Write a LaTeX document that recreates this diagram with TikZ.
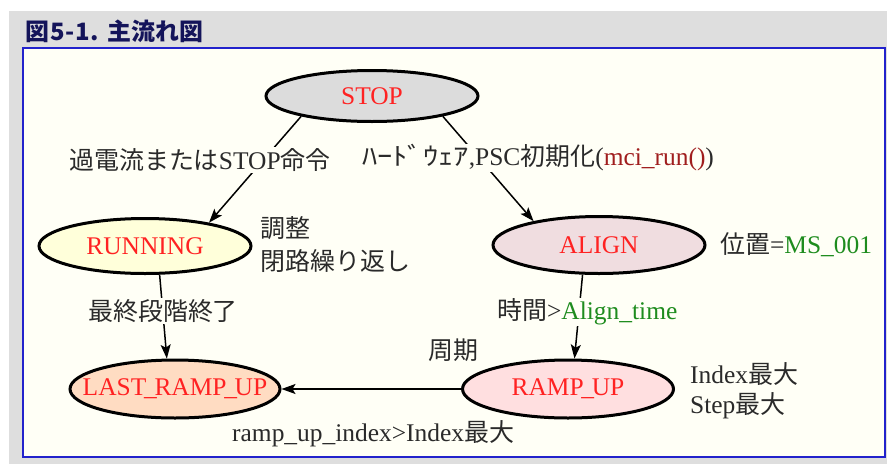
\documentclass[tikz,border=0pt]{standalone}
\usepackage{fontspec}
\setmainfont{Liberation Serif}[Scale=1.06]
\newfontfamily\jp{Noto Sans CJK JP}[Scale=1.04]
\newfontfamily\jphw{Noto Sans CJK JP}[Scale=1.04,FakeStretch=1.22]
\usetikzlibrary{shapes.geometric,arrows.meta}

\definecolor{pagegrey}{HTML}{DEDEDE}
\definecolor{panel}{HTML}{FFFFF6}
\definecolor{frameblue}{HTML}{2222CC}
\definecolor{titlenavy}{HTML}{14145A}
\definecolor{statered}{HTML}{FF2222}
\definecolor{callred}{HTML}{A01E1E}
\definecolor{valgreen}{HTML}{1E8C1E}
\definecolor{ink}{HTML}{2A2A2A}
\definecolor{fillstop}{HTML}{DCDCDC}
\definecolor{fillrun}{HTML}{FFFFDA}
\definecolor{fillalign}{HTML}{F0DDE0}
\definecolor{fillramp}{HTML}{FFDFE0}
\definecolor{filllast}{HTML}{FFDCC2}

% state names are set in a zero-width box so the ellipse keeps its given size
\newcommand{\statename}[1]{\makebox[0pt]{#1}}
% tighter underscore for the state names
\newcommand{\tus}{\kern-0.09em\_\kern-0.09em}

\tikzset{
  state/.style={ellipse, draw=black, line width=3pt, inner sep=0pt,
    text=statered, font=\fontsize{24}{28}\selectfont},
  flow/.style={line width=1.5pt,
    -{Stealth[length=14pt,width=10pt,inset=3pt]}},
  note/.style={inner sep=1pt, text=ink, anchor=west,
    font=\fontsize{24}{28}\selectfont},
  cut/.style={note, fill=panel},
}

\begin{document}
\begin{tikzpicture}[x=1pt,y=-1pt]
\useasboundingbox (0,0) rectangle (887,464);
\fill[white] (0,0) rectangle (887,464);
% page and panel
\fill[pagegrey] (9,11) rectangle (887,464);
\filldraw[fill=panel, draw=frameblue, line width=2pt] (23,48) rectangle (885,457);
\node[anchor=west, inner sep=0pt, text=titlenavy,
  font=\jp\bfseries\fontsize{23}{26}\selectfont] (title) at (25,31)
  {図\kern1pt 5\kern1pt-\kern1pt 1.\hspace{9pt}主流れ図};

% states
\node[state, fill=fillstop,  minimum width=212pt, minimum height=51pt] (stop)  at (372,96)  {\statename{STOP}};
\node[state, fill=fillrun,   minimum width=212pt, minimum height=55pt] (run)   at (145,246) {\statename{RUNNING}};
\node[state, fill=fillalign, minimum width=212pt, minimum height=57pt] (align) at (599,245) {\statename{ALIGN}};
\node[state, fill=fillramp,  minimum width=211pt, minimum height=58pt] (ramp)  at (568,389) {\statename{RAMP\tus UP}};
\node[state, fill=filllast,  minimum width=210pt, minimum height=58pt] (last)  at (175,389) {\statename{LAST\tus RAMP\tus UP}};

% transitions
\draw[flow] (stop.196) -- (run.20);
\draw[flow] (stop.344) -- (align.160);
\draw[flow] (run.297) -- (last.105);
\draw[flow] (align.241) -- (ramp.78);
\draw[flow] (ramp.west) -- (last.east);

% transition labels
\node[cut] (l1) at (68,160) {{\jp 過電流または}STOP{\jp 命令}};
\node[cut] (l2) at (361,158) {{\jphw ﾊｰﾄﾞｳｪｱ}{,}PSC{\jp 初期化}(\textcolor{callred}{mci\_run()})};
\node[cut] (l5) at (87,311) {\jp 最終段階終了};
\node[cut] (l6) at (496,312) {{\jp 時間}>\textcolor{valgreen}{Align\_time}};
\node[note] (l7) at (427,350) {\jp 周期};
\node[note] (l9) at (231,434) {ramp\_up\_index>Index{\jp 最大}};

% state notes
\node[note, align=left, font=\fontsize{24}{33}\selectfont] (n1) at (259,245)
  {{\jp 調整}\\{\jp 閉路繰り返し}};
\node[note] (n2) at (719,245) {{\jp 位置}=\textcolor{valgreen}{MS\_001}};
\node[note, align=left, font=\fontsize{24}{30}\selectfont] (n3) at (689,391)
  {Index{\jp 最大}\\Step{\jp 最大}};
\end{tikzpicture}
\end{document}
